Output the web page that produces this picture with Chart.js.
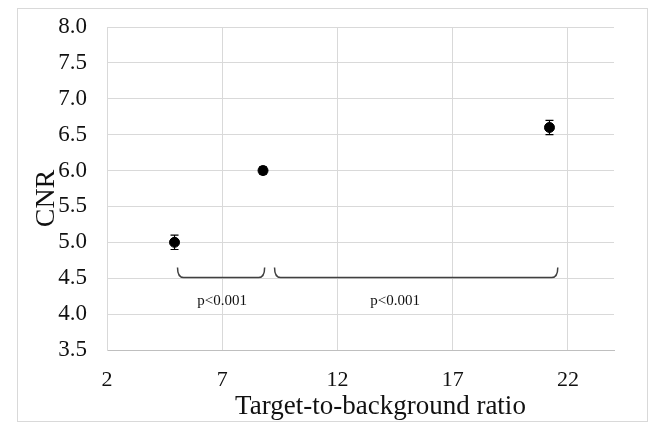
<!DOCTYPE html>
<html lang="en">
  <head>
    <meta charset="UTF-8" />
    <title>CNR vs target-to-background ratio</title>
    <script src="https://cdn.jsdelivr.net/npm/chart.js"></script>
    <style>
      html, body { margin: 0; padding: 0; background: #fff; }
      canvas { display: block; }
    </style>
  </head>
  <body>
    <canvas id="myChart" width="650" height="423"></canvas>
    <script>
      // measurements
      const xTicks = [2, 7, 12, 17, 22];
      const ratio = [4.93, 8.77, 21.2];
      const cnr = [5.0, 6.0, 6.6];
      const cnrErr = [0.1, 0.05, 0.1];

      // significance brackets
      const braceFrom = [5.06, 9.27];
      const braceTo = [8.84, 21.56];
      const braceLevel = 4.51;
      const pText = ['p<0.001', 'p<0.001'];
      const pX = [7.0, 14.5];
      const pLevel = 4.18;

      const serif = 'Liberation Serif';

      const decorations = {
        id: 'decorations',
        beforeDraw(chart) {
          const ctx = chart.ctx;
          ctx.save();
          ctx.fillStyle = '#fff';
          ctx.fillRect(0, 0, chart.width, chart.height);
          ctx.strokeStyle = '#d9d9d9';
          ctx.lineWidth = 1;
          ctx.strokeRect(17.5, 8.5, 630, 413);
          ctx.restore();
        },
        beforeDatasetsDraw(chart) {
          // error bars
          const ctx = chart.ctx;
          const x = chart.scales.x, y = chart.scales.y;
          ctx.save();
          ctx.strokeStyle = '#000';
          ctx.lineWidth = 1.2;
          ratio.forEach((r, i) => {
            const px = x.getPixelForValue(r);
            const top = y.getPixelForValue(cnr[i] + cnrErr[i]);
            const bot = y.getPixelForValue(cnr[i] - cnrErr[i]);
            ctx.beginPath();
            ctx.moveTo(px, top); ctx.lineTo(px, bot);
            ctx.moveTo(px - 4, top); ctx.lineTo(px + 4, top);
            ctx.moveTo(px - 4, bot); ctx.lineTo(px + 4, bot);
            ctx.stroke();
          });
          ctx.restore();
        },
        afterDraw(chart) {
          const ctx = chart.ctx;
          const x = chart.scales.x, y = chart.scales.y;
          const area = chart.chartArea;
          ctx.save();
          // brackets
          ctx.strokeStyle = '#404040';
          ctx.lineWidth = 1.5;
          const yb = y.getPixelForValue(braceLevel);
          braceFrom.forEach((from, i) => {
            const x1 = x.getPixelForValue(from);
            const x2 = x.getPixelForValue(braceTo[i]);
            ctx.beginPath();
            ctx.moveTo(x1, yb - 10);
            ctx.quadraticCurveTo(x1, yb, x1 + 6, yb);
            ctx.lineTo(x2 - 6, yb);
            ctx.quadraticCurveTo(x2, yb, x2, yb - 10);
            ctx.stroke();
          });
          // p-values
          ctx.fillStyle = '#111';
          ctx.font = '15px "' + serif + '"';
          ctx.textAlign = 'center';
          ctx.textBaseline = 'middle';
          pText.forEach((t, i) => {
            ctx.fillText(t, x.getPixelForValue(pX[i]), y.getPixelForValue(pLevel));
          });
          // axis titles
          ctx.font = '27px "' + serif + '"';
          ctx.textBaseline = 'alphabetic';
          ctx.fillText('Target-to-background ratio', (area.left + area.right) / 2 + 20, 414);
          ctx.font = '28px "' + serif + '"';
          ctx.translate(area.left - 53, (area.top + area.bottom) / 2 + 10);
          ctx.rotate(-Math.PI / 2);
          ctx.fillText('CNR', 0, 0);
          ctx.restore();
        }
      };

      new Chart(document.getElementById('myChart').getContext('2d'), {
        type: 'scatter',
        data: {
          datasets: [{
            data: ratio.map((r, i) => ({ x: r, y: cnr[i] })),
            backgroundColor: '#000',
            borderColor: '#000',
            pointRadius: 5,
            pointHoverRadius: 5
          }]
        },
        options: {
          responsive: false,
          animation: false,
          events: [],
          layout: { padding: { left: 20, right: 36, top: 27, bottom: 0 } },
          plugins: {
            legend: { display: false },
            tooltip: { enabled: false }
          },
          scales: {
            x: {
              type: 'linear',
              min: 2,
              max: 24,
              afterBuildTicks: s => { s.ticks = xTicks.map(v => ({ value: v })); },
              afterFit: s => { s.height = 73; },
              grid: { color: '#d9d9d9', drawTicks: false },
              border: { color: '#bfbfbf' },
              ticks: {
                padding: 17,
                color: '#111',
                font: { family: serif, size: 22 },
                maxRotation: 0
              }
            },
            y: {
              min: 3.5,
              max: 8,
              afterFit: s => {
                s.width = 87;
                // the top label may overhang the plot, as the border box leaves room
                s.paddingTop = 0;
                s.paddingBottom = 0;
              },
              grid: { color: '#d9d9d9', drawTicks: false },
              border: { color: '#d9d9d9' },
              ticks: {
                stepSize: 0.5,
                padding: 20,
                color: '#111',
                font: { family: serif, size: 23 },
                callback: v => v.toFixed(1)
              }
            }
          }
        },
        plugins: [decorations]
      });
    </script>
  </body>
</html>
